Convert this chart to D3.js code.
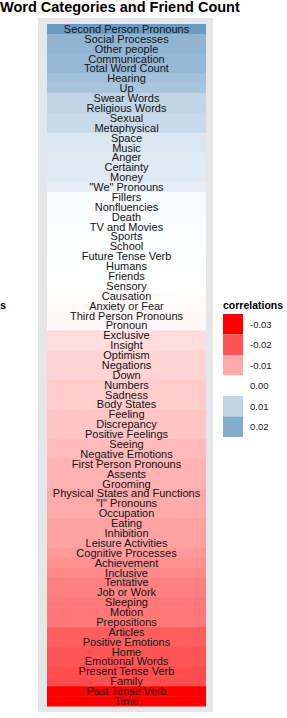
<!DOCTYPE html>
<html>
<head>
<meta charset="utf-8">
<script src="https://cdn.jsdelivr.net/npm/d3@7"></script>
<style>
  html, body { margin: 0; padding: 0; background: #ffffff; }
  svg { display: block; font-family: "Liberation Sans", Arial, sans-serif; }
</style>
</head>
<body>
<script>
// ---- data ----
const categories = [
  "Second Person Pronouns","Social Processes","Other people","Communication","Total Word Count",
  "Hearing","Up","Swear Words","Religious Words","Sexual","Metaphysical","Space","Music","Anger",
  "Certainty","Money","\"We\" Pronouns","Fillers","Nonfluencies","Death","TV and Movies","Sports",
  "School","Future Tense Verb","Humans","Friends","Sensory","Causation","Anxiety or Fear",
  "Third Person Pronouns","Pronoun","Exclusive","Insight","Optimism","Negations","Down","Numbers",
  "Sadness","Body States","Feeling","Discrepancy","Positive Feelings","Seeing","Negative Emotions",
  "First Person Pronouns","Assents","Grooming","Physical States and Functions","\"I\" Pronouns",
  "Occupation","Eating","Inhibition","Leisure Activities","Cognitive Processes","Achievement",
  "Inclusive","Tentative","Job or Work","Sleeping","Motion","Prepositions","Articles",
  "Positive Emotions","Home","Emotional Words","Present Tense Verb","Family","Past Tense Verb","Time"
];
const correlations = [
  0.024, 0.018, 0.018, 0.017, 0.017, 0.015, 0.014, 0.010, 0.010, 0.009, 0.009, 0.006, 0.006, 0.005,
  0.005, 0.005, 0.004, 0.001, 0.001, 0.001, 0.0008, 0.0005, 0.0005, 0.0003, 0.0, 0.0, 0.0,
  -0.0003, -0.0005, -0.0008, -0.001, -0.004, -0.004, -0.005, -0.005, -0.005, -0.006, -0.006,
  -0.006, -0.007, -0.007, -0.007, -0.008, -0.008, -0.009, -0.009, -0.009, -0.010, -0.010,
  -0.010, -0.011, -0.011, -0.011, -0.012, -0.013, -0.014, -0.015, -0.015, -0.016, -0.016,
  -0.016, -0.019, -0.019, -0.020, -0.020, -0.021, -0.021, -0.030, -0.030
];
const legendTicks = [-0.03, -0.02, -0.01, 0.00, 0.01, 0.02];
const titleText = "Word Categories and Friend Count";
const yTitle = "Categories";
const legendTitle = "correlations";

const rows = categories.map((c, i) => ({ category: c, value: correlations[i] }));

// ---- layout ----
const W = 287, H = 718;
const svg = d3.select("body").append("svg").attr("width", W).attr("height", H);

const panel = { x0: 38, x1: 213, y0: 18, y1: 712 };
const x = d3.scaleBand().domain(["all"]).range([47, 206]).padding(0);
const y = d3.scaleBand().domain(categories).range([24, 706]).padding(0);
const color = d3.scaleLinear().domain([-0.03, 0, 0.03])
  .range(["#ff0000", "#ffffff", "#4682b4"]).interpolate(d3.interpolateRgb).clamp(true);

// panel background
svg.append("rect")
  .attr("x", panel.x0).attr("y", panel.y0)
  .attr("width", panel.x1 - panel.x0).attr("height", panel.y1 - panel.y0)
  .attr("fill", "#e5e6e7");

// tiles
svg.append("g").selectAll("rect").data(rows).join("rect")
  .attr("x", x("all"))
  .attr("y", d => y(d.category))
  .attr("width", x.bandwidth())
  .attr("height", y.bandwidth() + 0.5)
  .attr("fill", d => color(d.value));

// labels
svg.append("g").selectAll("text").data(rows).join("text")
  .attr("x", x("all") + x.bandwidth() / 2)
  .attr("y", d => y(d.category) + y.bandwidth() / 2)
  .attr("dy", "0.36em")
  .attr("text-anchor", "middle")
  .attr("font-size", 11)
  .attr("fill", "#141414")
  .text(d => d.category);

// title
svg.append("text")
  .attr("x", 0).attr("y", 12)
  .attr("font-size", 14.5).attr("font-weight", "bold")
  .attr("fill", "#000")
  .text(titleText);

// y axis title (clipped at left edge)
svg.append("text")
  .attr("x", 6).attr("y", 309)
  .attr("text-anchor", "end")
  .attr("font-size", 11).attr("font-weight", "bold")
  .attr("fill", "#000")
  .text(yTitle);

// legend
const lg = svg.append("g").attr("transform", "translate(223,0)");
lg.append("text")
  .attr("x", 0).attr("y", 309)
  .attr("font-size", 10.5).attr("font-weight", "bold")
  .attr("fill", "#000")
  .text(legendTitle);
const keyY = d3.scaleBand().domain(legendTicks).range([314, 437]).padding(0);
lg.selectAll("rect.key").data(legendTicks).join("rect")
  .attr("class", "key")
  .attr("x", 0).attr("y", d => keyY(d))
  .attr("width", 20).attr("height", keyY.bandwidth())
  .attr("fill", d => color(d));
lg.selectAll("text.lab").data(legendTicks).join("text")
  .attr("class", "lab")
  .attr("x", 27).attr("y", d => keyY(d) + keyY.bandwidth() / 2)
  .attr("dy", "0.36em")
  .attr("font-size", 9.5)
  .attr("fill", "#1a1a1a")
  .text(d => d3.format(".2f")(d).replace("−", "-"));
</script>
</body>
</html>
